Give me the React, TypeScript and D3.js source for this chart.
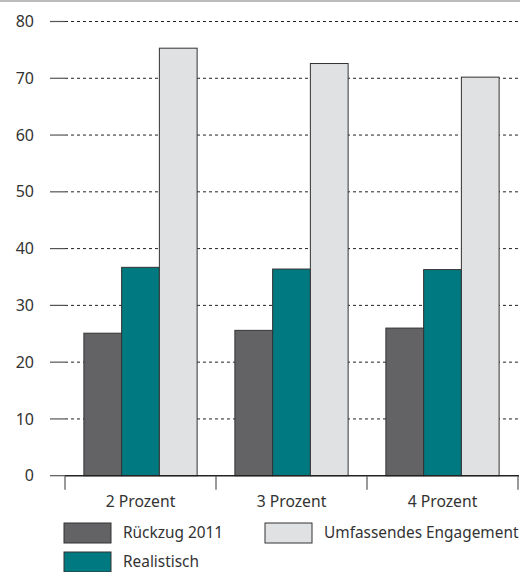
import * as d3 from "d3";

const categories = ["2 Prozent", "3 Prozent", "4 Prozent"];
const seriesNames = ["Rückzug 2011", "Realistisch", "Umfassendes Engagement"];
const rueckzug = [25.1, 25.6, 26.0];
const realistisch = [36.7, 36.4, 36.3];
const umfassend = [75.3, 72.6, 70.2];
const yTicks = [0, 10, 20, 30, 40, 50, 60, 70, 80];

const colors = ["#636265", "#007a80", "#e0e1e3"];

const App = () => {
  const width = 520;
  const height = 572;
  const font = "'Noto Sans', 'Open Sans', sans-serif";

  const x = d3.scaleBand().domain(categories).range([65, 518]);
  const inner = d3
    .scaleBand()
    .domain(seriesNames)
    .range([0, x.bandwidth()])
    .paddingOuter(0.5)
    .paddingInner(0);
  const y = d3.scaleLinear().domain([0, 80]).range([475.7, 21.5]);

  const series = [rueckzug, realistisch, umfassend];

  return (
    <svg
      width={width}
      height={height}
      style={{ position: "absolute", left: 0, top: 0 }}
      fontFamily={font}
    >
      <line x1={0} x2={width} y1={1} y2={1} stroke="#bcbcbc" strokeWidth={2} />
      {yTicks.map((t) => (
        <g key={t}>
          {t > 0 && (
            <line
              x1={65}
              x2={width}
              y1={y(t)}
              y2={y(t)}
              stroke="#222"
              strokeWidth={1}
              strokeDasharray="3,3"
            />
          )}
          <line x1={50} x2={65} y1={y(t)} y2={y(t)} stroke="#555" strokeWidth={1.2} />
          <text
            x={34}
            y={y(t)}
            dy="0.35em"
            textAnchor="end"
            fontSize={16}
            fill="#333"
          >
            {t}
          </text>
        </g>
      ))}
      {series.map((vals, si) =>
        categories.map((c, ci) => (
          <rect
            key={si + "-" + ci}
            x={x(c)! + inner(seriesNames[si])!}
            y={y(vals[ci])}
            width={inner.bandwidth()}
            height={y(0) - y(vals[ci])}
            fill={colors[si]}
            stroke="#333"
            strokeWidth={1}
          />
        ))
      )}
      <line x1={65} x2={519} y1={y(0)} y2={y(0)} stroke="#222" strokeWidth={1.5} />
      {[...categories.map((c) => x(c)!), x.range()[1]].map((px, i) => (
        <line key={i} x1={px} x2={px} y1={y(0)} y2={y(0) + 14} stroke="#555" strokeWidth={1.2} />
      ))}
      {categories.map((c) => (
        <text
          key={c}
          x={x(c)! + x.bandwidth() / 2}
          y={502}
          dy="0.35em"
          textAnchor="middle"
          fontSize={15.7}
          fill="#333"
        >
          {c}
        </text>
      ))}
      {[
        { name: seriesNames[0], color: colors[0], sx: 64, sy: 523 },
        { name: seriesNames[2], color: colors[2], sx: 265, sy: 523 },
        { name: seriesNames[1], color: colors[1], sx: 64, sy: 552 },
      ].map((l) => (
        <g key={l.name}>
          <rect x={l.sx} y={l.sy} width={47} height={20} fill={l.color} stroke="#333" strokeWidth={1} />
          <text x={l.sx + 59} y={l.sy + 10} dy="0.35em" fontSize={15.4} fill="#333">
            {l.name}
          </text>
        </g>
      ))}
    </svg>
  );
};

export default App;
